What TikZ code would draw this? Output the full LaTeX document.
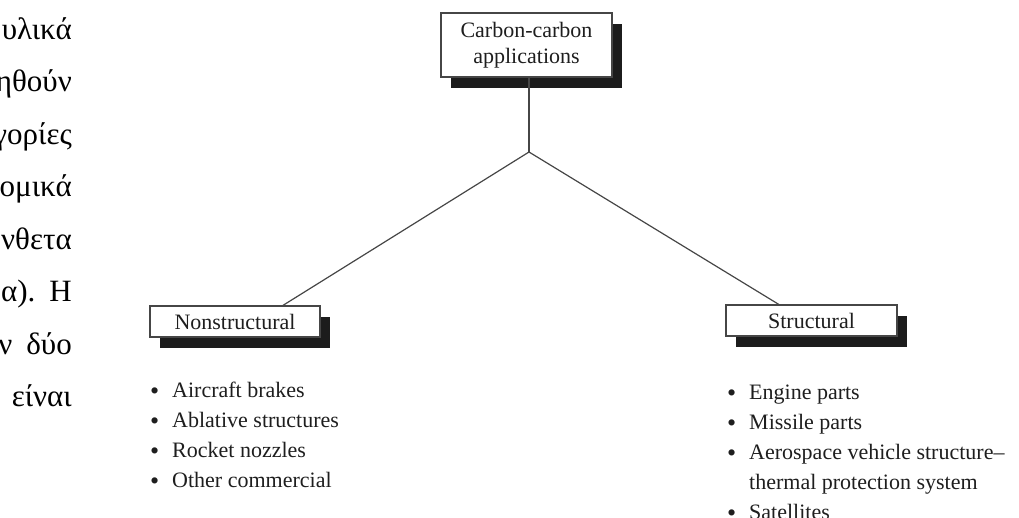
\documentclass[tikz,border=0pt]{standalone}
\usepackage{fontspec}
\setmainfont{Liberation Serif}
\usepackage{xcolor}
\usepackage{tikz}
\usetikzlibrary{
  calc,
  shadows,
  positioning
}
\definecolor{inkgray}{RGB}{30, 30, 30}
\definecolor{linegray}{RGB}{70, 70, 70}
\definecolor{shadowgray}{RGB}{28, 28, 28}
\newcommand\lblfont{\fontsize{22}{26}\selectfont}
\newcommand\lstfont{\fontsize{22}{30}\selectfont}
\newcommand\grkfont{\fontsize{31}{52}\selectfont}
\newcommand\bul{\raisebox{-2.5pt}{\fontsize{26}{26}\selectfont\textbullet}}
\tikzset{
  appbox/.style = {
    rectangle, draw=linegray, line width=1.2pt, fill=white,
    minimum width=#1, minimum height=31pt, inner sep=2pt,
    align=center, font=\lblfont, text=inkgray,
    drop shadow={shadow xshift=10pt, shadow yshift=-11pt,
                 fill=shadowgray, opacity=1}
  },
  appbox/.default = 171pt,
  itemlist/.style = {
    inner sep=0pt, font=\lstfont, text=inkgray, anchor=base west
  },
  grktxt/.style = {
    inner sep=0pt, font=\grkfont, text=black, anchor=base east
  },
  branch/.style = {draw=linegray, line width=1.2pt},
}

\begin{document}
\begin{tikzpicture}[x=1pt, y=-1pt]
  \useasboundingbox (0,0) rectangle (1019,517);

  % running text cut at the page edge
  \foreach \txt [count=\i] in {{υλικά}, {ηθούν}, {γορίες}, {ομικά},
      {νθετα}, {α).\hspace{14pt}Η}, {ν\hspace{14pt}δύο}, {είναι}}
    \node[grktxt] (g\i) at (72, {39+52.5*(\i-1)}) {\txt};

  \node[appbox, minimum height=64pt] (top) at (526.5,45)
    {Carbon-carbon\\applications};
  \node[appbox=170pt] (ns) at (235,321.5) {Nonstructural};
  \node[appbox] (st) at (811.5,320.5) {Structural};
  \coordinate (fork) at (529,152);

  \node[itemlist] (nslist) at (150,397)
    {\begin{tabular}[t]{@{}p{22pt}@{}l@{}}
      \bul & Aircraft brakes\\
      \bul & Ablative structures\\
      \bul & Rocket nozzles\\
      \bul & Other commercial
    \end{tabular}};
  \node[itemlist] (stlist) at (727,399)
    {\begin{tabular}[t]{@{}p{22pt}@{}l@{}}
      \bul & Engine parts\\
      \bul & Missile parts\\
      \bul & Aerospace vehicle structure--\\
           & thermal protection system\\
      \bul & Satellites
    \end{tabular}};

  %% Lines
  \draw[branch] (fork |- top.south) -- (fork);
  \draw[branch] (fork) -- ($(ns.north west)!0.78!(ns.north east)$);
  \draw[branch] (fork) -- ($(st.north west)!0.31!(st.north east)$);

\end{tikzpicture}
\end{document}
